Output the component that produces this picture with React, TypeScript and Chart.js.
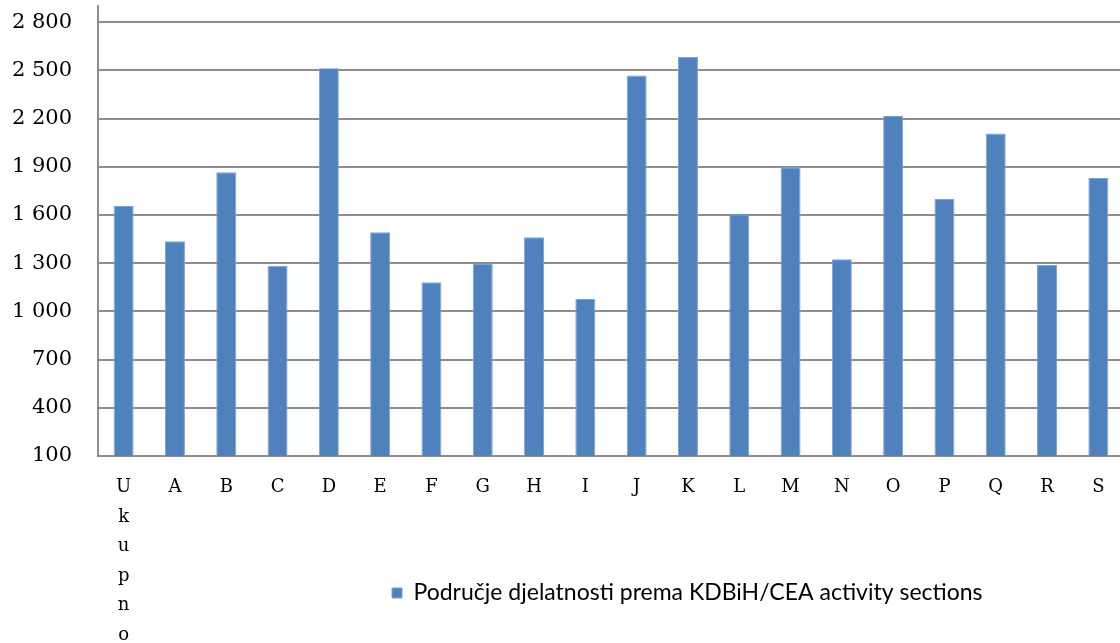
import React, { useEffect, useRef } from "react";
import { Chart, registerables } from "chart.js";

Chart.register(...registerables);

const categories: (string | string[])[] = [
  ["U", "k", "u", "p", "n", "o"],
  "A", "B", "C", "D", "E", "F", "G", "H", "I", "J",
  "K", "L", "M", "N", "O", "P", "Q", "R", "S",
];
const seriesLabel = "Područje djelatnosti prema KDBiH/CEA activity sections";
const seriesValues = [
  1655, 1436, 1865, 1284, 2512, 1492, 1181, 1295, 1461, 1077,
  2467, 2583, 1602, 1896, 1324, 2216, 1699, 2106, 1289, 1830,
];
const yTicks = [100, 400, 700, 1000, 1300, 1600, 1900, 2200, 2500, 2800];
const yMin = 100;
const yMax = 2900;

const fmt = (v: number) =>
  String(Math.round(v)).replace(/\B(?=(\d{3})+(?!\d))/g, " ");

const LEGEND_FONT = 23;

const legendPlacer = {
  id: "legendPlacer",
  afterLayout(chart: any) {
    const x = chart.scales.x;
    if (x) x.bottom = chart.height;
    const lg = chart.legend;
    if (!lg || !lg.lineWidths) return;
    const pad = 10;
    const cur = (lg.left + pad + lg.right - lg.lineWidths[0]) / 2;
    const dx = 392 - cur;
    lg.left += dx;
    lg.right += dx;
    const dy = 593 - (lg.top + pad + LEGEND_FONT / 2);
    lg.top += dy;
    lg.bottom += dy;
  },
};

export default function App() {
  const ref = useRef<HTMLCanvasElement | null>(null);
  useEffect(() => {
    if (!ref.current) return;
    const grid = "#8e8e8e";
    const chart = new Chart(ref.current, {
      type: "bar",
      data: {
        labels: categories,
        datasets: [
          {
            label: seriesLabel,
            data: seriesValues,
            backgroundColor: "#4F81BD",
            borderColor: "#7ea2d2",
            borderWidth: 1,
            categoryPercentage: 1,
            barPercentage: 0.39,
          },
        ],
      },
      options: {
        animation: false,
        responsive: false,
        maintainAspectRatio: false,
        layout: { padding: { top: 6, left: 0, right: 0, bottom: 0 } },
        plugins: {
          tooltip: { enabled: false },
          legend: {
            position: "bottom",
            labels: {
              boxWidth: 10,
              boxHeight: 10,
              padding: 10,
              color: "#000",
              font: { family: "Lato, sans-serif", size: LEGEND_FONT },
            },
          },
        },
        scales: {
          x: {
            grid: { display: false, drawTicks: false },
            border: { color: grid, width: 2 },
            ticks: {
              autoSkip: false,
              maxRotation: 0,
              minRotation: 0,
              padding: 17,
              color: "#000",
              font: { family: "'DejaVu Serif', serif", size: 18, lineHeight: 29.5 / 18 },
            },
            afterFit: (s: any) => {
              s.height = 643 - 456 - (LEGEND_FONT + 20);
              s.paddingLeft = 0;
              s.paddingRight = 0;
            },
          },
          y: {
            min: yMin,
            max: yMax,
            grid: { color: grid, lineWidth: 2, drawTicks: false },
            border: { color: grid, width: 2 },
            ticks: {
              padding: 26,
              color: "#000",
              font: { family: "'DejaVu Serif', serif", size: 21 },
              callback: (v: any) => fmt(Number(v)),
            },
            afterBuildTicks: (s: any) => {
              s.ticks = yTicks.map((v) => ({ value: v }));
            },
            afterFit: (s: any) => {
              s.width = 98;
              s.paddingTop = 0;
              s.paddingBottom = 0;
            },
          },
        },
      },
      plugins: [legendPlacer],
    });
    return () => chart.destroy();
  }, []);
  return (
    <div
      style={{
        position: "fixed",
        left: 0,
        top: 0,
        width: 1120,
        height: 643,
        overflow: "hidden",
        background: "#fff",
      }}
    >
      <canvas ref={ref} width={1124} height={643} style={{ width: 1124, height: 643, display: "block" }} />
    </div>
  );
}
